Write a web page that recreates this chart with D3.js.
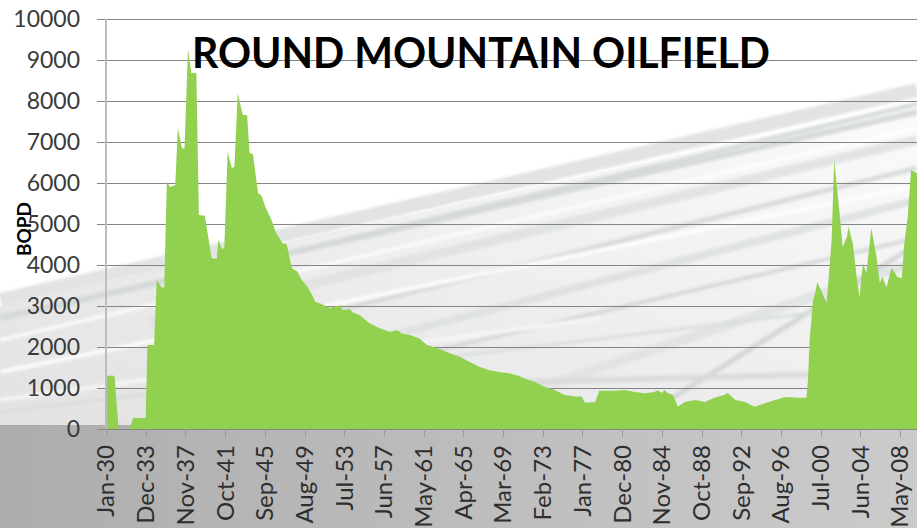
<!DOCTYPE html>
<html>
<meta charset=utf-8>
<head>
<script src="https://cdn.jsdelivr.net/npm/d3@7"></script>
<style>
  body { margin: 0; background-color: #fff; }
  text { font-family: Lato, "Open Sans", sans-serif; }
  .ticklab { font-size: 23px; fill: #3a3a3a; }
  .xlab { font-size: 24px; fill: #2e2e2e; }
</style>
</head>
<body>
<script>

// monthly oil rate (BOPD)
var months = ["1930-01","1930-11","1931-04","1932-05","1932-09","1933-12","1934-02","1934-10","1935-01","1935-07",
  "1935-10","1936-01","1936-05","1936-11","1937-02","1937-07","1937-10","1938-02","1938-06","1938-12",
  "1939-03","1939-10","1940-06","1940-12","1941-02","1941-06","1941-09","1942-01","1942-06","1942-09",
  "1943-01","1943-07","1943-12","1944-03","1944-07","1945-01","1945-05","1945-10","1946-05","1946-10",
  "1947-06","1947-11","1948-05","1948-11","1949-05","1949-11","1950-04","1950-09","1951-02","1952-02",
  "1953-02","1953-05","1954-02","1954-05","1955-01","1956-01","1957-01","1958-01","1958-10","1959-03",
  "1960-01","1960-12","1961-09","1962-08","1963-12","1964-12","1965-11","1966-11","1967-10","1968-10",
  "1969-10","1970-10","1971-04","1972-04","1973-04","1974-04","1975-04","1976-04","1976-12","1977-04",
  "1978-04","1978-09","1980-03","1981-03","1982-03","1983-03","1984-02","1984-06","1984-11","1985-02",
  "1985-06","1985-12","1986-06","1987-02","1988-02","1989-02","1990-01","1991-01","1991-05","1992-02",
  "1993-01","1994-01","1995-01","1996-01","1997-01","1998-04","1999-02","1999-04","1999-06","1999-10",
  "1999-12","2000-03","2000-09","2001-02","2001-08","2001-11","2002-05","2002-09","2003-02","2003-04",
  "2003-09","2004-02","2004-05","2004-09","2005-01","2005-07","2006-01","2006-05","2006-08","2007-01",
  "2007-07","2008-02","2008-07","2008-10","2009-02","2009-06","2010-01"];

var bopd = [1300,1300,0,0,270,270,2050,2050,3630,3450,
  3450,6030,5900,5950,7340,6850,6850,9270,8680,8680,
  5220,5200,4170,4150,4610,4400,4400,6760,6360,6400,
  8190,7660,7660,6730,6700,5750,5700,5400,5100,4800,
  4530,4500,3920,3850,3630,3480,3310,3100,3070,2950,
  3020,2900,2920,2850,2780,2580,2460,2370,2410,2330,
  2290,2210,2050,1980,1850,1760,1640,1520,1440,1390,
  1360,1290,1240,1150,1030,950,830,790,790,640,
  660,930,930,950,900,870,900,940,880,950,
  880,830,540,660,710,660,760,830,880,710,
  660,540,630,710,780,760,760,1200,2170,3150,
  3270,3580,3310,3070,4610,6560,5340,4440,4680,4930,
  4530,3630,3220,4050,3800,4900,4200,3560,3710,3460,
  3930,3710,3680,4530,5170,6320,6240];

var xTickLabels = ["Jan-30","Dec-33","Nov-37","Oct-41","Sep-45","Aug-49","Jul-53","Jun-57","May-61","Apr-65",
  "Mar-69","Feb-73","Jan-77","Dec-80","Nov-84","Oct-88","Sep-92","Aug-96","Jul-00","Jun-04","May-08"];
var yTicks = [0,1000,2000,3000,4000,5000,6000,7000,8000,9000,10000];

var W = 917, H = 528;
var plotL = 106, plotR = 917, plotT = 19, plotB = 429;

var parseMonth = d3.timeParse("%Y-%m");
var parseTick = function(s) {
  var d = d3.timeParse("%b-%y")(s);
  if (d.getFullYear() > 2010) d.setFullYear(d.getFullYear() - 100);
  return d;
};

var data = months.map(function(m, i) { return { date: parseMonth(m), v: bopd[i] }; });

var x = d3.scaleTime()
  .domain([parseMonth("1930-01"), parseMonth("2010-01")])
  .range([plotL, plotR]);
var y = d3.scaleLinear().domain([0, 10000]).range([plotB, plotT]);

var svg = d3.select("body").append("svg").attr("width", W).attr("height", H);

var defs = svg.append("defs");
var g1 = defs.append("linearGradient").attr("id", "band").attr("x1", 0).attr("x2", 1).attr("y1", 0).attr("y2", 0);
g1.append("stop").attr("offset", 0).attr("stop-color", "#adadad");
g1.append("stop").attr("offset", 1).attr("stop-color", "#cbcbcb");
var g2 = defs.append("linearGradient").attr("id", "haze").attr("x1", 0).attr("x2", 1).attr("y1", 1).attr("y2", 0);
g2.append("stop").attr("offset", 0).attr("stop-color", "#e2e2e2");
g2.append("stop").attr("offset", 0.6).attr("stop-color", "#f1f1f1");
g2.append("stop").attr("offset", 1).attr("stop-color", "#fbfbfb");
defs.append("filter").attr("id", "soft")
  .append("feGaussianBlur").attr("stdDeviation", 1.5);

// background picture: white sheet with grey streaks and a grey band at the foot
svg.append("rect").attr("width", W).attr("height", H).attr("fill", "#fff");
svg.append("polygon")
  .attr("points", "0,306 917,102 917,425 0,425")
  .attr("fill", "url(#haze)");

var streaks = [
  [0, 300, 917, 90, 14, "#dfe2e2"],
  [300, 250, 917, 104, 4, "#d2d6d6"],
  [0, 318, 917, 112, 6, "#d4d8d8"],
  [0, 340, 917, 128, 3, "#ffffff"],
  [150, 322, 917, 140, 10, "#e0e3e3"],
  [250, 332, 917, 168, 5, "#d6dada"],
  [0, 372, 917, 186, 4, "#ffffff"],
  [350, 346, 917, 200, 8, "#dee1e1"],
  [430, 352, 917, 238, 4, "#d4d8d8"],
  [520, 394, 917, 262, 10, "#e1e4e4"],
  [560, 469, 917, 244, 5, "#d0d4d4"],
  [480, 383, 917, 372, 6, "#dadada"],
  [0, 400, 600, 318, 4, "#f8f8f8"],
  [0, 412, 917, 300, 3, "#d8dcdc"]
];
svg.append("g").attr("filter", "url(#soft)")
  .selectAll("line").data(streaks).enter().append("line")
  .attr("x1", function(d) { return d[0]; })
  .attr("y1", function(d) { return d[1]; })
  .attr("x2", function(d) { return d[2]; })
  .attr("y2", function(d) { return d[3]; })
  .attr("stroke-width", function(d) { return d[4]; })
  .attr("stroke", function(d) { return d[5]; })
  .attr("opacity", 0.9);

svg.append("rect").attr("x", 0).attr("y", 425).attr("width", W).attr("height", H - 425)
  .attr("fill", "url(#band)");

// gridlines
svg.append("g").selectAll("line").data(yTicks.slice(1)).enter().append("line")
  .attr("x1", 97).attr("x2", plotR)
  .attr("y1", function(d) { return y(d) + 0.5; })
  .attr("y2", function(d) { return y(d) + 0.5; })
  .attr("stroke", "#858585").attr("stroke-width", 1);

// the production area
var area = d3.area()
  .x(function(d) { return x(d.date); })
  .y0(y(0))
  .y1(function(d) { return y(d.v); });
svg.append("path").datum(data)
  .attr("d", area)
  .attr("fill", "#92d050");

// axes
svg.append("line").attr("x1", plotL).attr("x2", plotL).attr("y1", plotT).attr("y2", plotB + 8)
  .attr("stroke", "#bdbdbd").attr("stroke-width", 2);
svg.append("line").attr("x1", 97).attr("x2", plotR).attr("y1", plotB + 0.5).attr("y2", plotB + 0.5)
  .attr("stroke", "#858585");

var tickDates = xTickLabels.map(parseTick);
svg.append("g").selectAll("line").data(tickDates).enter().append("line")
  .attr("x1", function(d) { return Math.round(x(d)) + 0.5; })
  .attr("x2", function(d) { return Math.round(x(d)) + 0.5; })
  .attr("y1", plotB).attr("y2", plotB + 8)
  .attr("stroke", "#9a9a9a");

svg.append("g").selectAll("text").data(xTickLabels).enter().append("text")
  .attr("class", "xlab")
  .attr("text-anchor", "end")
  .attr("dy", "0.35em")
  .attr("transform", function(d) { return "translate(" + x(parseTick(d)) + ",445) rotate(-90)"; })
  .text(function(d) { return d; });

svg.append("g").selectAll("text").data(yTicks).enter().append("text")
  .attr("class", "ticklab")
  .attr("x", 80)
  .attr("y", function(d) { return y(d); })
  .attr("dy", "0.35em")
  .attr("text-anchor", "end")
  .text(function(d) { return d; });

svg.append("text")
  .attr("transform", "translate(24,229) rotate(-90)")
  .attr("text-anchor", "middle")
  .attr("dy", "0.35em")
  .style("font-size", "19px").style("font-weight", "bold")
  .text("BOPD");

// title
svg.append("text")
  .attr("x", 192).attr("y", 68)
  .attr("textLength", 578).attr("lengthAdjust", "spacingAndGlyphs")
  .style("font-size", "42px").style("font-weight", "bold")
  .attr("fill", "#000")
  .text("ROUND MOUNTAIN OILFIELD");

</script>
</body>
</html>
